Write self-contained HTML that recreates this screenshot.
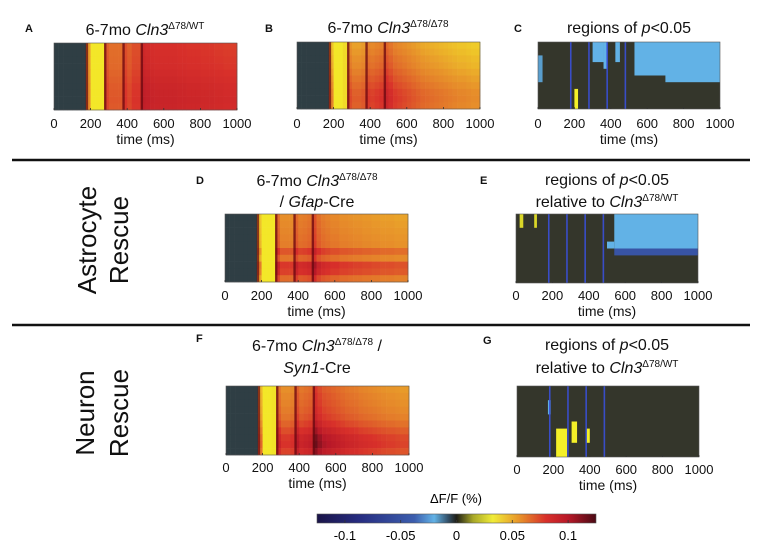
<!DOCTYPE html>
<html><head><meta charset="utf-8"><style>
html,body{margin:0;padding:0;background:#fff;}
svg{display:block;font-family:"Liberation Sans",sans-serif;}
.t{font-size:16px;fill:#111;}
.tk{font-size:13px;fill:#111;}
.ax{font-size:14px;fill:#111;}
.lb{font-size:11px;font-weight:bold;fill:#111;}
.side{font-size:26px;fill:#111;}
</style></head><body>
<svg id="fig" width="764" height="556" viewBox="0 0 764 556">
<defs>
<linearGradient id="cmap" x1="0" x2="1" y1="0" y2="0">
<stop offset="0" stop-color="#1a1448"/><stop offset="0.15" stop-color="#262c80"/>
<stop offset="0.35" stop-color="#3c5eae"/><stop offset="0.42" stop-color="#62b2e6"/>
<stop offset="0.47" stop-color="#335068"/><stop offset="0.5" stop-color="#1e1e16"/>
<stop offset="0.56" stop-color="#a8a828"/><stop offset="0.63" stop-color="#f0ec38"/>
<stop offset="0.72" stop-color="#e8982a"/><stop offset="0.82" stop-color="#d8302a"/>
<stop offset="0.9" stop-color="#b81828"/><stop offset="1" stop-color="#4a0a14"/>
</linearGradient>
</defs>
<g id="panels"></g>
<line x1="12" y1="160" x2="750" y2="160" stroke="#111" stroke-width="2.5"/>
<line x1="12" y1="325" x2="750" y2="325" stroke="#111" stroke-width="2.5"/>

<text class="lb" x="25" y="32">A</text>
<text class="t" x="145" y="35" text-anchor="middle">6-7mo <tspan font-style="italic">Cln3</tspan><tspan font-size="10" dy="-6">Δ78/WT</tspan></text>
<text class="lb" x="265" y="32">B</text>
<text class="t" x="388" y="33" text-anchor="middle">6-7mo <tspan font-style="italic">Cln3</tspan><tspan font-size="10" dy="-6">Δ78/Δ78</tspan></text>
<text class="lb" x="514" y="32">C</text>
<text class="t" x="629" y="33" text-anchor="middle">regions of <tspan font-style="italic">p</tspan>&lt;0.05</text>

<text class="lb" x="196" y="184">D</text>
<text class="t" x="317" y="186" text-anchor="middle">6-7mo <tspan font-style="italic">Cln3</tspan><tspan font-size="10" dy="-6">Δ78/Δ78</tspan></text>
<text class="t" x="317" y="207" text-anchor="middle">/ <tspan font-style="italic">Gfap</tspan>-Cre</text>
<text class="lb" x="480" y="184">E</text>
<text class="t" x="607" y="185" text-anchor="middle">regions of <tspan font-style="italic">p</tspan>&lt;0.05</text>
<text class="t" x="607" y="207" text-anchor="middle">relative to <tspan font-style="italic">Cln3</tspan><tspan font-size="10" dy="-6">Δ78/WT</tspan></text>

<text class="lb" x="196" y="342">F</text>
<text class="t" x="317" y="351" text-anchor="middle">6-7mo <tspan font-style="italic">Cln3</tspan><tspan font-size="10" dy="-6">Δ78/Δ78</tspan><tspan dy="6"> /</tspan></text>
<text class="t" x="317" y="373" text-anchor="middle"><tspan font-style="italic">Syn1</tspan>-Cre</text>
<text class="lb" x="483" y="344">G</text>
<text class="t" x="607" y="350" text-anchor="middle">regions of <tspan font-style="italic">p</tspan>&lt;0.05</text>
<text class="t" x="607" y="373" text-anchor="middle">relative to <tspan font-style="italic">Cln3</tspan><tspan font-size="10" dy="-6">Δ78/WT</tspan></text>

<text class="side" transform="translate(96,240) rotate(-90)" text-anchor="middle">Astrocyte</text>
<text class="side" transform="translate(128,240) rotate(-90)" text-anchor="middle">Rescue</text>
<text class="side" transform="translate(94,413) rotate(-90)" text-anchor="middle">Neuron</text>
<text class="side" transform="translate(128,413) rotate(-90)" text-anchor="middle">Rescue</text>

<g>
<text x="456" y="503" text-anchor="middle" font-size="13">ΔF/F (%)</text>
<rect x="317" y="514" width="279" height="9" fill="url(#cmap)" stroke="#555" stroke-width="0.6"/>
<g id="cbticks"></g>
</g>
</svg>
<script>
// ---- data ----
const timeTicks = [0, 200, 400, 600, 800, 1000];
const binStarts = [0,25,50,75,100,125,150,175,200,225,250,275,300,325,350,375,400,425,450,475,500,525,550,575,600,625,650,675,700,725,750,775,800,825,850,875,900,925,950,975];
const valsA = [0,0,0,0,0,0,0,0.05,0.032,0.032,0.032,0.07,0.065,0.065,0.065,0.075,0.07,0.075,0.075,0.09,0.088,0.086,0.085,0.085,0.085,0.085,0.085,0.084,0.084,0.083,0.083,0.083,0.082,0.082,0.082,0.081,0.081,0.08,0.08,0.08];
const valsB = [0,0,0,0,0,0,0,0.05,0.032,0.032,0.035,0.065,0.06,0.06,0.062,0.07,0.068,0.07,0.072,0.08,0.075,0.07,0.068,0.066,0.064,0.062,0.06,0.058,0.057,0.056,0.055,0.054,0.053,0.052,0.051,0.05,0.05,0.049,0.048,0.048];
const valsD = [0,0,0,0,0,0,0,0.045,0.032,0.032,0.032,0.07,0.06,0.06,0.06,0.072,0.065,0.066,0.068,0.08,0.07,0.066,0.064,0.062,0.062,0.06,0.06,0.059,0.058,0.058,0.057,0.057,0.056,0.056,0.055,0.055,0.055,0.054,0.054,0.054];
const valsF = [0,0,0,0,0,0,0,0.05,0.032,0.032,0.033,0.07,0.062,0.062,0.064,0.078,0.07,0.072,0.074,0.092,0.085,0.08,0.078,0.076,0.074,0.072,0.07,0.069,0.068,0.066,0.065,0.064,0.063,0.062,0.061,0.06,0.06,0.059,0.058,0.058];
const rowGainA = [0.95,0.96,0.97,0.98,1,1.02,1.04,1.05,1.06,1.05];
const rowGainB = [0.8,0.83,0.87,0.9,0.95,1.0,1.05,1.1,1.12,1.1];
const rowGainD = [0.88,0.9,0.92,0.94,0.96,1.15,1.0,1.3,1.25,1.05];
const rowGainF = [0.85,0.88,0.9,0.93,0.97,1.05,1.15,1.25,1.28,1.2];
const artifactTimes = [180, 280, 380, 480];
// significance regions: [tStart, tEnd, rowStart, rowEnd, value]
const sigC = [[300,360,0,3,-0.035],[360,380,0,4,-0.035],[425,450,0,3,-0.035],[530,1000,0,5,-0.035],[700,1000,5,6,-0.035],[200,220,7,10,0.03],[0,25,2,6,-0.03]];
const sigE = [[540,1000,0,5,-0.035],[500,540,4,5,-0.035],[540,1000,5,6,-0.06],[20,40,0,2,0.025],[100,115,0,2,0.025]];
const sigG = [[215,275,6,10,0.03],[300,330,5,8,0.03],[380,400,6,8,0.03],[170,185,2,4,-0.035]];
const cbTicks = [-0.1,-0.05,0,0.05,0.1];

// ---- colormap ----
const stops = [[-0.125,[26,20,72]],[-0.1,[38,44,128]],[-0.05,[60,94,174]],[-0.035,[98,178,230]],[-0.01,[51,80,104]],[0,[44,50,44]],[0.015,[168,168,40]],[0.03,[244,240,40]],[0.05,[232,152,42]],[0.08,[216,48,42]],[0.1,[184,24,40]],[0.125,[74,10,20]]];
function cmap(v){
  v=Math.max(-0.125,Math.min(0.125,v));
  for(let i=0;i<stops.length-1;i++){
    const a=stops[i],b=stops[i+1];
    if(v<=b[0]){const f=(v-a[0])/(b[0]-a[0]);const c=a[1].map((x,k)=>Math.round(x+(b[1][k]-x)*f));return `rgb(${c[0]},${c[1]},${c[2]})`;}
  }
  return 'rgb(74,10,20)';
}
const NS='http://www.w3.org/2000/svg';
const root=document.getElementById('panels');
function mk(tag,attrs,parent){const e=document.createElementNS(NS,tag);for(const k in attrs)e.setAttribute(k,attrs[k]);(parent||root).appendChild(e);return e;}

function axis(g,x0,w,y1,tickY,labY){
  const xs=t=>x0+t/1000*w;
  timeTicks.forEach(t=>{
    mk('line',{x1:xs(t),x2:xs(t),y1:y1-2,y2:y1,stroke:'#333','stroke-width':0.8},g);
    const tx=mk('text',{x:xs(t),y:tickY,'text-anchor':'middle',class:'tk'},g);
    
    
    tx.textContent=t;
  });
  const tl=mk('text',{x:x0+w/2,y:labY,'text-anchor':'middle',class:'ax'},g);
  
  
  tl.textContent='time (ms)';
}

function heat(name,x0,y0,w,h,vals,gains,tickY,labY){
  const g=mk('g',{});
  
  
  const xs=t=>x0+t/1000*w;
  const rows=gains.length, rh=h/rows;
  gains.forEach((gn,r)=>{
    vals.forEach((v,i)=>{
      const t0=binStarts[i], t1=i+1<binStarts.length?binStarts[i+1]:1000;
      let vv=v===0?-0.004:(v>0.028&&v<0.04?v:v*gn);
      const c=mk('rect',{x:xs(t0),y:y0+r*rh,width:xs(t1)-xs(t0)+0.3,height:rh+0.3,fill:cmap(vv)},g);
      
      
    });
  });
  artifactTimes.forEach(t=>{
    const l=mk('rect',{x:xs(t)-1.2,y:y0,width:2.4,height:h,fill:'#6a0a10',opacity:0.75},g);
    
    
  });
  mk('rect',{x:x0,y:y0,width:w,height:h,fill:'none',stroke:'#555','stroke-width':0.6},g);
  axis(g,x0,w,y0+h,tickY,labY);
}

function sig(name,x0,y0,w,h,regions,tickY,labY){
  const g=mk('g',{});
  
  
  const xs=t=>x0+t/1000*w;
  const rh=h/10;
  mk('rect',{x:x0,y:y0,width:w,height:h,fill:'#34362b'},g);
  regions.forEach(s=>{
    const c=mk('rect',{x:xs(s[0]),y:y0+s[2]*rh,width:xs(s[1])-xs(s[0]),height:(s[3]-s[2])*rh,fill:cmap(s[4])},g);
    
    
  });
  artifactTimes.forEach(t=>{
    const l=mk('rect',{x:xs(t)-0.8,y:y0,width:1.6,height:h,fill:'#3a50d8',opacity:0.9},g);
    
    
  });
  mk('rect',{x:x0,y:y0,width:w,height:h,fill:'none',stroke:'#555','stroke-width':0.6},g);
  axis(g,x0,w,y0+h,tickY,labY);
}

heat('heatmap-a',54,43,183,67,valsA,rowGainA,128,144);
heat('heatmap-b',297,42,183,67,valsB,rowGainB,128,144);
sig('significance-c',538,42,182,67,sigC,128,144);
heat('heatmap-d',225,214,183,68,valsD,rowGainD,300,316);
sig('significance-e',516,214,182,69,sigE,300,316);
heat('heatmap-f',226,386,183,69,valsF,rowGainF,472,488);
sig('significance-g',517,386,182,71,sigG,474,490);

// colorbar ticks
const cbg=document.getElementById('cbticks');
const cx=v=>317+(v+0.125)/0.25*279;
cbTicks.forEach(v=>{
  mk('line',{x1:cx(v),x2:cx(v),y1:520,y2:523,stroke:'#333','stroke-width':0.8},cbg);
  const t=mk('text',{x:cx(v),y:540,'text-anchor':'middle','font-size':13},cbg);
  
  
  t.textContent=v===0?'0':String(v);
});
</script>
</body></html>
